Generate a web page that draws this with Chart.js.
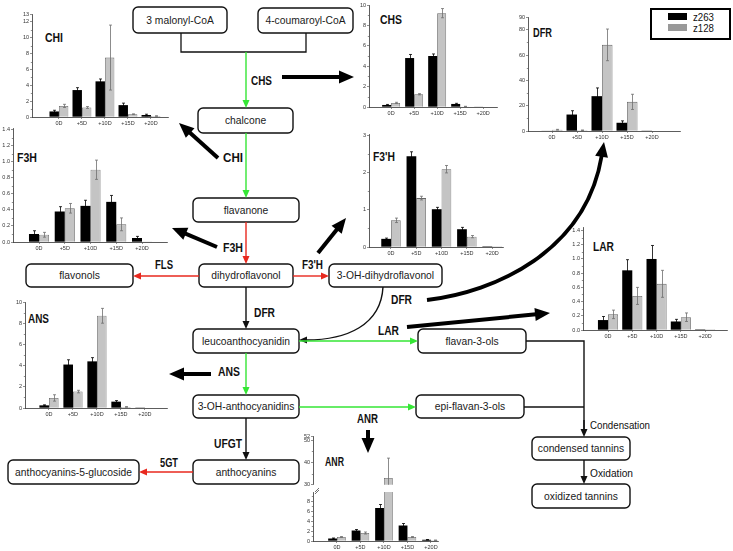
<!DOCTYPE html>
<html>
<head>
<meta charset="utf-8">
<script src="https://cdn.jsdelivr.net/npm/chart.js@4.4.1/dist/chart.umd.min.js"></script>
<style>
  body { margin: 0; background: #fff; }
  #wrap { position: relative; width: 733px; height: 551px; overflow: hidden; background: #fff; }
  #wrap svg, #wrap canvas { position: absolute; }
</style>
</head>
<body>
<div id="wrap"><svg id="path" width="733" height="551" style="left:0;top:0"></svg></div>
<script>
// categories and series
const days = ['0D', '+5D', '+10D', '+15D', '+20D'];
const seriesNames = ['z263', 'z128'];

// relative expression (mean and error)
const chiZ263 = [0.7, 3.4, 4.5, 1.5, 0.25];
const chiZ128 = [1.4, 1.2, 7.5, 0.35, 0.12];
const chiErrZ263 = [0.15, 0.3, 0.3, 0.25, 0.1];
const chiErrZ128 = [0.2, 0.12, 4.1, 0.05, 0.03];

const chsZ263 = [0.2, 4.8, 5.0, 0.3, 0.02];
const chsZ128 = [0.4, 1.25, 9.2, 0.05, 0.02];
const chsErrZ263 = [0.05, 0.35, 0.2, 0.06, 0];
const chsErrZ128 = [0.06, 0.06, 0.45, 0.02, 0];

const dfrZ263 = [0.3, 13, 27.5, 6.5, 0.1];
const dfrZ128 = [1.0, 0.6, 68, 23, 0.2];
const dfrErrZ263 = [0, 3, 6.5, 1.5, 0];
const dfrErrZ128 = [0.3, 0.2, 12.5, 6, 0];

const f3hZ263 = [0.1, 0.38, 0.45, 0.5, 0.05];
const f3hZ128 = [0.09, 0.42, 0.9, 0.22, 0.005];
const f3hErrZ263 = [0.04, 0.06, 0.07, 0.08, 0.02];
const f3hErrZ128 = [0.03, 0.06, 0.12, 0.08, 0];

const f3phZ263 = [0.22, 2.45, 1.02, 0.48, 0.02];
const f3phZ128 = [0.72, 1.32, 2.1, 0.28, 0.02];
const f3phErrZ263 = [0.02, 0.12, 0.05, 0.05, 0];
const f3phErrZ128 = [0.06, 0.05, 0.1, 0.03, 0];

const larZ263 = [0.14, 0.84, 1.0, 0.12, 0.01];
const larZ128 = [0.22, 0.48, 0.65, 0.18, 0.01];
const larErrZ263 = [0.05, 0.15, 0.19, 0.03, 0];
const larErrZ128 = [0.06, 0.12, 0.19, 0.06, 0];

const ansZ263 = [0.25, 4.1, 4.4, 0.6, 0.05];
const ansZ128 = [0.95, 1.55, 8.7, 0.1, 0.02];
const ansErrZ263 = [0.05, 0.45, 0.35, 0.1, 0];
const ansErrZ128 = [0.3, 0.12, 0.7, 0.03, 0];

const anrZ263 = [0.5, 2.1, 6.6, 3.1, 0.25];
const anrZ128 = [0.8, 1.6, 33, 0.8, 0.15];
const anrErrZ263 = [0.1, 0.2, 0.7, 0.4, 0.05];
const anrErrZ128 = [0.1, 0.2, 9, 0.1, 0.03];

// where each small panel sits on the page (plot area in px) and its axis ranges
const panels = [
  { title: 'CHI', a: chiZ263, b: chiZ128, ea: chiErrZ263, eb: chiErrZ128, left: 32, right: 168, top: 14, bottom: 117, yMin: 0, yMax: 13, step: 2, dec: 0, xMin: -1.17, xMax: 4.74, cat: 0.82 },
  { title: 'CHS', a: chsZ263, b: chsZ128, ea: chsErrZ263, eb: chsErrZ128, left: 369, right: 497, top: 5, bottom: 107, yMin: 0, yMax: 10, step: 2, dec: 0, xMin: -0.96, xMax: 4.6, cat: 0.78 },
  { title: 'DFR', a: dfrZ263, b: dfrZ128, ea: dfrErrZ263, eb: dfrErrZ128, left: 528, right: 680, top: 17, bottom: 131, yMin: 0, yMax: 90, step: 20, dec: 0, xMin: -0.96, xMax: 5.12, cat: 0.84 },
  { title: 'F3H', a: f3hZ263, b: f3hZ128, ea: f3hErrZ263, eb: f3hErrZ128, left: 13, right: 167, top: 128, bottom: 242, yMin: 0, yMax: 1.42, step: 0.2, dec: 1, xMin: -1.01, xMax: 4.97, cat: 0.78 },
  { title: "F3'H", a: f3phZ263, b: f3phZ128, ea: f3phErrZ263, eb: f3phErrZ128, left: 369, right: 503, top: 134, bottom: 247, yMin: 0, yMax: 3.05, step: 1, dec: 0, xMin: -0.87, xMax: 4.43, cat: 0.77 },
  { title: 'LAR', a: larZ263, b: larZ128, ea: larErrZ263, eb: larErrZ128, left: 583, right: 727, top: 227, bottom: 330, yMin: 0, yMax: 1.45, step: 0.2, dec: 1, xMin: -1.03, xMax: 4.9, cat: 0.83 },
  { title: 'ANS', a: ansZ263, b: ansZ128, ea: ansErrZ263, eb: ansErrZ128, left: 25, right: 167, top: 302, bottom: 408, yMin: 0, yMax: 10, step: 2, dec: 0, xMin: -1.0, xMax: 4.92, cat: 0.8 },
  // ANR has a broken y axis: lower part 0-10, upper part 30-52
  { title: 'ANR', a: anrZ263, b: anrZ128, ea: anrErrZ263, eb: anrErrZ128, left: 313, right: 438, top: 492, bottom: 541, yMin: 0, yMax: 9.8, step: 2, dec: 0, xMin: -1.02, xMax: 4.3, cat: 0.75 },
  { title: '', a: anrZ263, b: anrZ128, ea: anrErrZ263, eb: anrErrZ128, left: 313, right: 438, top: 436, bottom: 489, yMin: 30, yMax: 52, step: 10, dec: 0, xMin: -1.02, xMax: 4.3, cat: 0.75, noX: true }
];

const wrap = document.getElementById('wrap');
const svg = document.getElementById('path');
const NS = 'http://www.w3.org/2000/svg';
const BOX_FONT = "'Liberation Sans', Arial, sans-serif";
const LBL_FONT = "'Liberation Sans Narrow', 'Arial Narrow', 'Liberation Sans', Arial, sans-serif";
const GREEN = '#35e635', RED = '#e8281e', INK = '#111';

function add(tag, attrs, text) {
  const e = document.createElementNS(NS, tag);
  for (const k in attrs) e.setAttribute(k, attrs[k]);
  if (text !== undefined) e.textContent = text;
  svg.appendChild(e);
  return e;
}

function box(x1, y1, x2, y2, text) {
  add('rect', { x: x1, y: y1, width: x2 - x1, height: y2 - y1, rx: 5, ry: 5, fill: '#fff', stroke: INK, 'stroke-width': 1.4 });
  add('text', { x: (x1 + x2) / 2, y: (y1 + y2) / 2 + 3.6, 'text-anchor': 'middle', 'font-family': BOX_FONT, 'font-size': 10.3, fill: '#1a1a1a' }, text);
}

function label(x, cy, text, w, size, weight, family) {
  size = size || 13.5;
  add('text', { x: x, y: cy + size * 0.36, 'font-family': family || LBL_FONT, 'font-size': size, 'font-weight': weight || 'bold',
    textLength: w, lengthAdjust: 'spacingAndGlyphs', fill: INK }, text);
}

function head(tx, ty, ux, uy, color, hl, hw) {
  const bx = tx - ux * hl, by = ty - uy * hl, px = -uy, py = ux;
  add('polygon', { points: `${tx},${ty} ${bx + px * hw},${by + py * hw} ${bx - px * hw},${by - py * hw}`, fill: color });
}

function arrow(x1, y1, x2, y2, color, w, hl, hw) {
  const len = Math.hypot(x2 - x1, y2 - y1), ux = (x2 - x1) / len, uy = (y2 - y1) / len;
  add('line', { x1: x1, y1: y1, x2: x2 - ux * (hl - 1), y2: y2 - uy * (hl - 1), stroke: color, 'stroke-width': w });
  head(x2, y2, ux, uy, color, hl, hw);
}

function curveArrow(p0, c1, c2, p3, color, w, hl, hw) {
  const len = Math.hypot(p3[0] - c2[0], p3[1] - c2[1]), ux = (p3[0] - c2[0]) / len, uy = (p3[1] - c2[1]) / len;
  const s = hl - 1;
  add('path', { d: `M${p0[0]},${p0[1]} C${c1[0]},${c1[1]} ${c2[0] - ux * s},${c2[1] - uy * s} ${p3[0] - ux * s},${p3[1] - uy * s}`,
    fill: 'none', stroke: color, 'stroke-width': w });
  head(p3[0], p3[1], ux, uy, color, hl, hw);
}

const thin = (x1, y1, x2, y2, c) => arrow(x1, y1, x2, y2, c, 1.4, 8, 3.5);
const thick = (x1, y1, x2, y2) => arrow(x1, y1, x2, y2, '#000', 4, 15, 6.5);

// pathway boxes
box(133, 7, 227, 33, '3 malonyl-CoA');
box(258, 8, 353, 33, '4-coumaroyl-CoA');
box(198, 108, 293, 133, 'chalcone');
box(193, 198, 299, 222, 'flavanone');
box(26, 264, 133, 287, 'flavonols');
box(199, 264, 293, 287, 'dihydroflavonol');
box(329, 264, 442, 287, '3-OH-dihydroflavonol');
box(193, 329, 299, 353, 'leucoanthocyanidin');
box(418, 329, 526, 353, 'flavan-3-ols');
box(193, 395, 299, 418, '3-OH-anthocyanidins');
box(416, 395, 524, 418, 'epi-flavan-3-ols');
box(193, 460, 299, 484, 'anthocyanins');
box(8, 460, 139, 484, 'anthocyanins-5-glucoside');
box(532, 437, 630, 460, 'condensed tannins');
box(532, 484, 630, 508, 'oxidized tannins');

// pathway connectors
add('polyline', { points: '181,33 181,52 306,52 306,33', fill: 'none', stroke: INK, 'stroke-width': 1.3 });
thin(246, 52, 246, 108, GREEN);
thin(246, 133, 246, 198, GREEN);
thin(246, 222, 246, 264, RED);
thin(199, 276, 133, 276, RED);
thin(293, 276, 329, 276, RED);
thin(246, 287, 246, 329, INK);
curveArrow([383, 287], [381, 325], [340, 340], [299, 340], INK, 1.4, 8, 3.5);
thin(299, 341, 418, 341, GREEN);
thin(246, 353, 246, 395, GREEN);
thin(299, 407, 416, 407, GREEN);
thin(246, 418, 246, 460, INK);
thin(193, 472, 139, 472, RED);
add('polyline', { points: '526,341 584,341 584,430', fill: 'none', stroke: INK, 'stroke-width': 1.4 });
thin(584, 420, 584, 437, INK);
add('line', { x1: 524, y1: 407, x2: 584, y2: 407, stroke: INK, 'stroke-width': 1.4 });
thin(584, 460, 584, 484, INK);

// thick arrows pointing to the panels
thick(282, 77, 354, 77);
thick(218, 158, 179, 123);
thick(217, 247, 172, 228);
thick(318, 253, 346, 218);
curveArrow([427, 300], [495, 292], [588, 238], [604, 142], '#000', 3.8, 15, 6.5);
thick(407, 327, 550, 313);
thick(211, 374, 169, 374);
thick(368, 430, 368, 453);

// enzyme labels
label(251, 80, 'CHS', 21);
label(223, 157, 'CHI', 20);
label(223, 247, 'F3H', 20);
label(155, 264, 'FLS', 18);
label(302, 264, "F3'H", 21);
label(254, 312, 'DFR', 21);
label(391, 299, 'DFR', 21);
label(378, 330, 'LAR', 21);
label(218, 371, 'ANS', 22);
label(357, 418, 'ANR', 21);
label(214, 443, 'UFGT', 28);
label(160, 462, '5GT', 18);
label(590, 425, 'Condensation', 60, 11.5, 'normal');
label(590, 473, 'Oxidation', 43, 11.5, 'normal');

// panel titles
const titlePos = { 'CHI': [45, 38, 18], 'CHS': [380, 20, 22], 'DFR': [533, 33, 19], 'F3H': [17, 158, 20],
  "F3'H": [373, 157, 22], 'LAR': [593, 247, 21], 'ANS': [28, 319, 21], 'ANR': [325, 462, 19] };
for (const t in titlePos) {
  const [x, cy, w] = titlePos[t];
  label(x, cy, t, w, 12, 'bold', BOX_FONT);
}

// legend
add('rect', { x: 651, y: 9, width: 79, height: 30, fill: '#fff', stroke: '#000', 'stroke-width': 2 });
add('rect', { x: 668, y: 13, width: 19, height: 7, fill: '#000' });
add('rect', { x: 668, y: 24, width: 19, height: 7, fill: '#999' });
label(693, 16.5, seriesNames[0], 21, 11.5, 'normal', BOX_FONT);
label(693, 28, seriesNames[1], 21, 11.5, 'normal', BOX_FONT);

// axis break mark on ANR
add('line', { x1: 315, y1: 492, x2: 319, y2: 488, stroke: '#333', 'stroke-width': 0.7 });
add('line', { x1: 315, y1: 494, x2: 319, y2: 490, stroke: '#333', 'stroke-width': 0.7 });

// error bars and minor y ticks, drawn through the chart's own scales
const errorBars = {
  id: 'errorBars',
  afterDatasetsDraw(chart) {
    const { ctx, chartArea: area } = chart;
    const y = chart.scales.y;
    ctx.save();
    ctx.beginPath();
    ctx.rect(area.left, area.top - 2, area.right - area.left, area.bottom - area.top + 2);
    ctx.clip();
    chart.data.datasets.forEach((ds, i) => {
      const meta = chart.getDatasetMeta(i);
      ctx.strokeStyle = ds.errorColor;
      ctx.lineWidth = 0.8;
      meta.data.forEach((bar, j) => {
        const err = ds.errors[j];
        if (!err) return;
        const v = ds.data[j].y;
        const hi = y.getPixelForValue(v + err), lo = y.getPixelForValue(v - err);
        const x = Math.round(bar.x) + 0.5;
        ctx.beginPath();
        ctx.moveTo(x, lo); ctx.lineTo(x, hi);
        ctx.moveTo(x - 1.5, hi); ctx.lineTo(x + 1.5, hi);
        ctx.moveTo(x - 1.5, lo); ctx.lineTo(x + 1.5, lo);
        ctx.stroke();
      });
    });
    ctx.restore();
  },
  afterDraw(chart) {
    const { ctx, chartArea: area } = chart;
    const y = chart.scales.y;
    const step = y.options.ticks.stepSize / 2;
    ctx.save();
    ctx.strokeStyle = '#444';
    ctx.lineWidth = 0.6;
    ctx.beginPath();
    for (let v = y.min + step; v < y.max; v += 2 * step) {
      const py = Math.round(y.getPixelForValue(v)) + 0.5;
      ctx.moveTo(area.left - 1.2, py);
      ctx.lineTo(area.left, py);
    }
    ctx.stroke();
    ctx.restore();
  }
};

Chart.defaults.font.family = "'Liberation Sans', Arial, sans-serif";

const padL = 14, padR = 6, padT = 5, padB = 12;

function drawPanel(p) {
  const xH = p.noX ? 0 : padB;
  const w = p.right - p.left + padL + padR;
  const h = p.bottom - p.top + padT + xH;
  const cv = document.createElement('canvas');
  cv.width = w;
  cv.height = h;
  cv.style.left = (p.left - padL) + 'px';
  cv.style.top = (p.top - padT) + 'px';
  wrap.appendChild(cv);

  const axisGrid = { display: true, drawOnChartArea: false, drawTicks: true, tickLength: 2, color: '#444', lineWidth: 0.6, offset: false };
  const axisBorder = { display: true, color: '#333', width: 0.8 };
  const tickFont = { size: 5.5 };

  new Chart(cv, {
    type: 'bar',
    data: {
      datasets: [
        { label: seriesNames[0], data: days.map((d, i) => ({ x: i, y: p.a[i] })), errors: p.ea, errorColor: '#000',
          backgroundColor: '#000', borderWidth: 0, clip: 0 },
        { label: seriesNames[1], data: days.map((d, i) => ({ x: i, y: p.b[i] })), errors: p.eb, errorColor: '#6e6e6e',
          backgroundColor: '#c4c4c4', borderColor: '#666', borderWidth: 0.8, clip: 0 }
      ]
    },
    options: {
      responsive: false,
      animation: false,
      devicePixelRatio: 1,
      events: [],
      layout: { padding: { left: 0, right: padR, top: padT, bottom: 0 } },
      plugins: { legend: { display: false }, tooltip: { enabled: false } },
      datasets: { bar: { categoryPercentage: p.cat, barPercentage: 1 } },
      scales: {
        x: {
          type: 'linear', min: p.xMin, max: p.xMax, bounds: 'data', offset: false, display: !p.noX,
          afterBuildTicks: s => { s.ticks = days.map((d, i) => ({ value: i })); },
          afterFit: s => { s.height = xH; },
          ticks: { callback: v => days[v] || '', font: tickFont, color: '#333', padding: 1, maxRotation: 0, autoSkip: false },
          grid: axisGrid,
          border: axisBorder
        },
        y: {
          min: p.yMin, max: p.yMax, bounds: 'data',
          afterFit: s => { s.width = padL; },
          ticks: { stepSize: p.step, includeBounds: false, callback: v => v.toFixed(p.dec), font: tickFont, color: '#333', padding: 1 },
          grid: axisGrid,
          border: axisBorder
        }
      }
    },
    plugins: [errorBars]
  });
}

panels.forEach(drawPanel);
</script>
</body>
</html>
